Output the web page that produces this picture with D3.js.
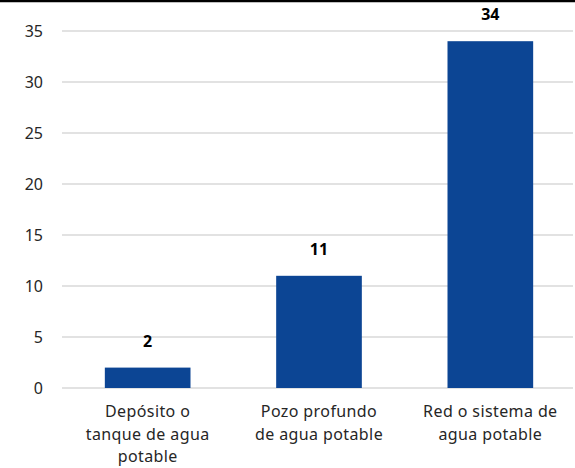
<!DOCTYPE html>
<html>
<head>
<meta charset="utf-8">
<script src="https://cdn.jsdelivr.net/npm/d3@7"></script>
<style>
  body { margin: 0; background: #fff; }
  svg { display: block; font-family: "Noto Sans", sans-serif; }
</style>
</head>
<body>
<svg id="canvas"></svg>
<script>
const categories = [
    ['Depósito o', 'tanque de agua', 'potable'],
    ['Pozo profundo', 'de agua potable'],
    ['Red o sistema de', 'agua potable']
];
const values = [2, 11, 34];
const yTicks = [0, 5, 10, 15, 20, 25, 30, 35];

let width = 575;
let height = 468;

let canvas = d3.select('#canvas')
    .attr('width', width)
    .attr('height', height);

// top border of the chart frame
canvas.append('line')
    .attr('x1', 0).attr('x2', width)
    .attr('y1', 1).attr('y2', 1)
    .attr('stroke', '#000')
    .attr('stroke-width', 2.5);

const xScale = d3.scaleBand()
    .domain(d3.range(values.length))
    .range([62, 576])
    .paddingInner(0.5)
    .paddingOuter(0.25);

const yScale = d3.scaleLinear()
    .domain([0, 35])
    .range([388, 31]);

// gridlines
canvas.append('g')
    .selectAll('line')
    .data(yTicks)
    .enter()
    .append('line')
    .attr('x1', 62)
    .attr('x2', 573)
    .attr('y1', d => yScale(d))
    .attr('y2', d => yScale(d))
    .attr('stroke', '#d9d9d9')
    .attr('stroke-width', 1.3);

const yAxis = d3.axisLeft(yScale)
    .tickValues(yTicks)
    .tickSize(0)
    .tickPadding(0);

canvas.append('g')
    .attr('transform', 'translate(43,0)')
    .call(yAxis)
    .call(g => g.select('.domain').remove())
    .selectAll('text')
    .attr('font-family', '"Noto Sans", sans-serif')
    .attr('font-size', 16)
    .attr('fill', '#262626');

canvas.selectAll('rect.bar')
    .data(values)
    .enter()
    .append('rect')
    .attr('class', 'bar')
    .attr('x', (d, i) => xScale(i))
    .attr('y', d => yScale(d))
    .attr('width', xScale.bandwidth())
    .attr('height', d => yScale(0) - yScale(d))
    .attr('fill', '#0c4594');

canvas.selectAll('text.value')
    .data(values)
    .enter()
    .append('text')
    .attr('class', 'value')
    .attr('x', (d, i) => xScale(i) + xScale.bandwidth() / 2)
    .attr('y', d => yScale(d) - 21)
    .attr('text-anchor', 'middle')
    .attr('font-size', 16)
    .attr('font-weight', 'bold')
    .attr('fill', '#000')
    .text(d => d);

const labels = canvas.selectAll('text.cat')
    .data(categories)
    .enter()
    .append('text')
    .attr('class', 'cat')
    .attr('text-anchor', 'middle')
    .attr('font-size', 16)
    .attr('letter-spacing', 0.4)
    .attr('fill', '#262626')
    .attr('transform', (d, i) => 'translate(' + (xScale(i) + xScale.bandwidth() / 2) + ',417)');

labels.selectAll('tspan')
    .data(d => d)
    .enter()
    .append('tspan')
    .attr('x', 0)
    .attr('y', (d, j) => j * 22.5)
    .text(d => d);
</script>
</body>
</html>
